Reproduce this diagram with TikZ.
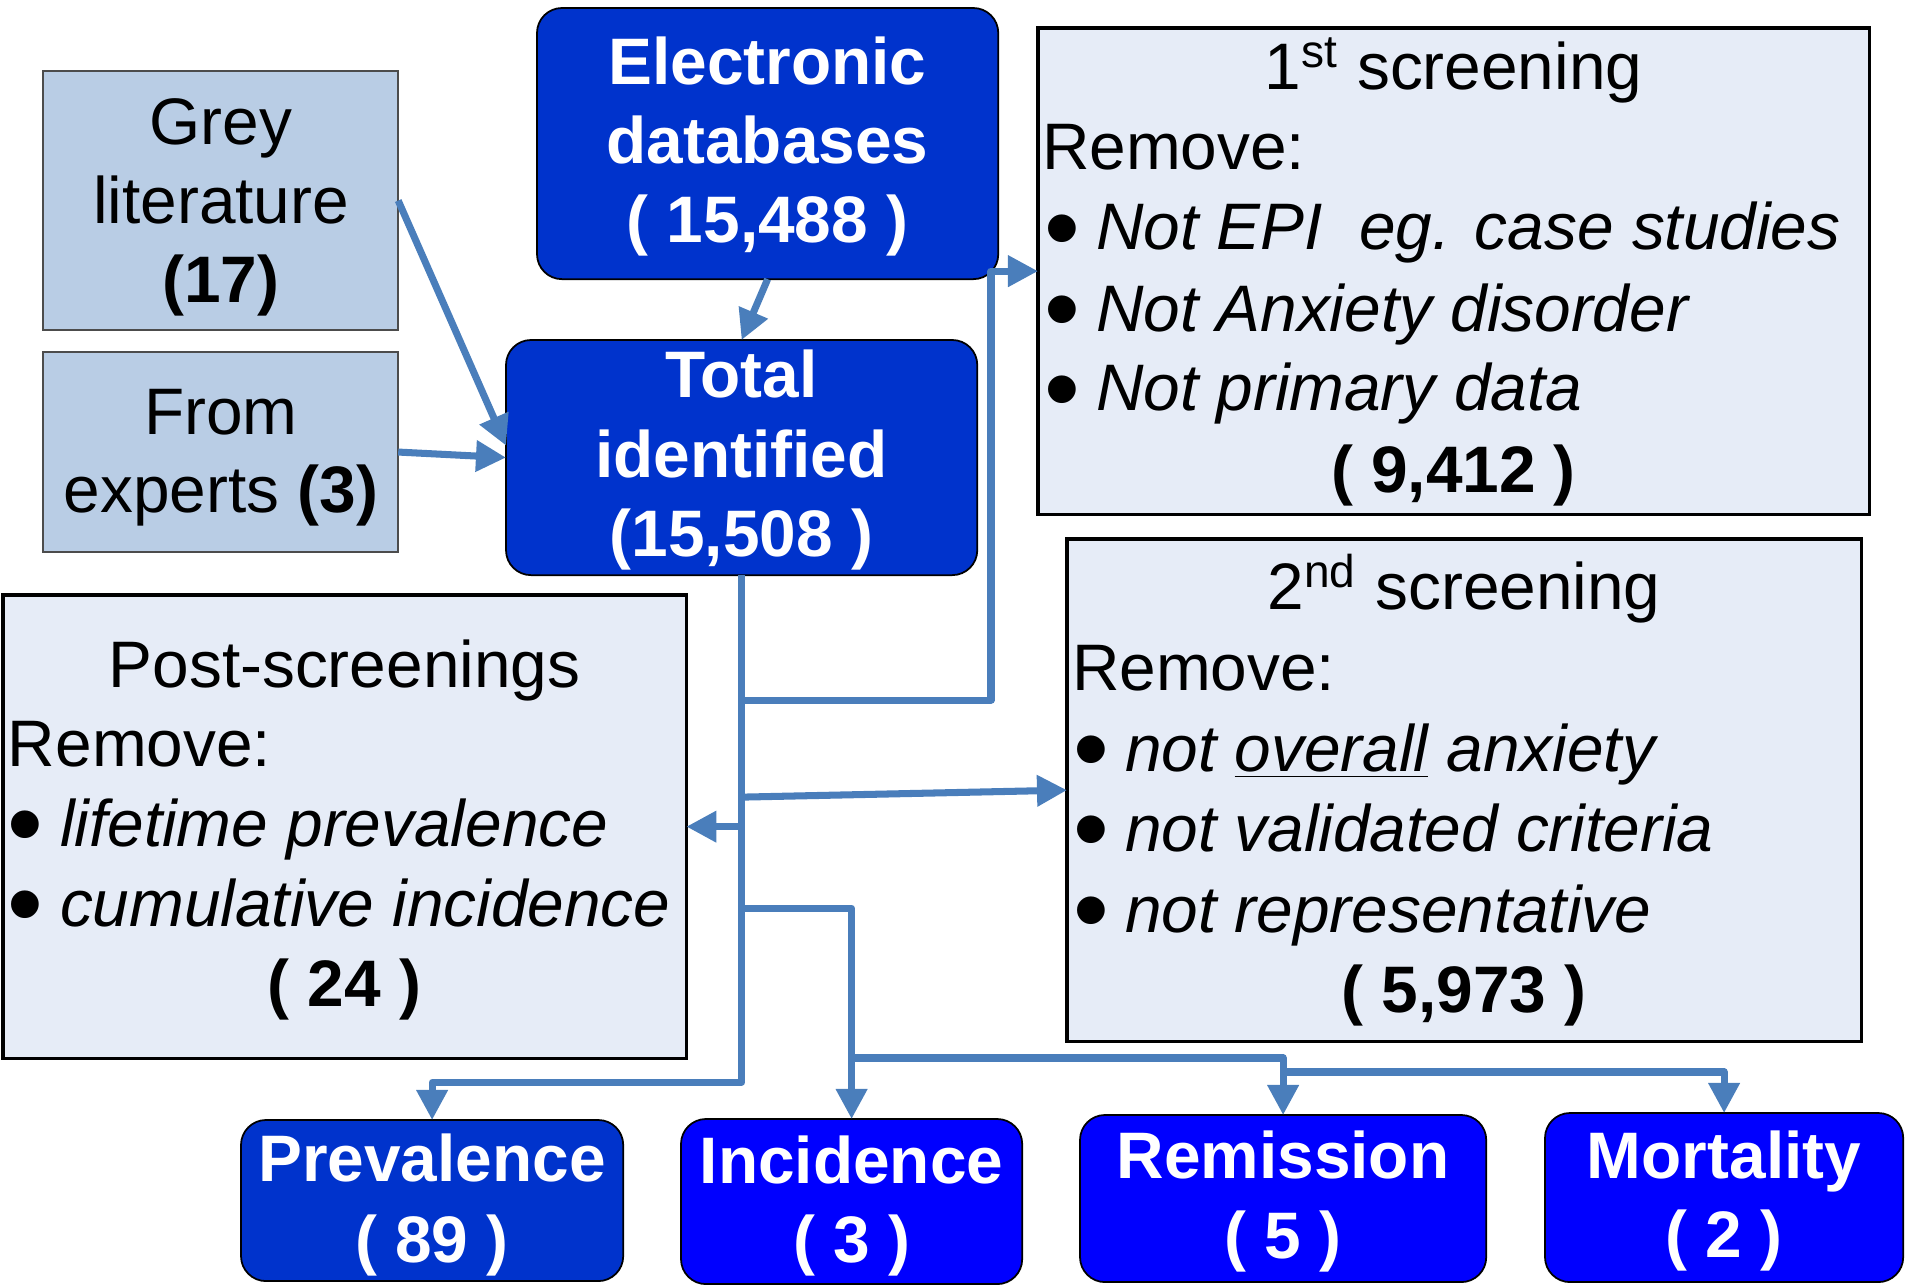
\documentclass[tikz,border=0pt]{standalone}
\usepackage{fontspec}
\setmainfont{Liberation Sans}
\usetikzlibrary{arrows.meta,calc}

\definecolor{linkblue}{HTML}{4A7EBB}
\definecolor{deepblue}{HTML}{0033CC}
\definecolor{pureblue}{HTML}{0000FF}
\definecolor{paleblue}{HTML}{B9CDE5}
\definecolor{mistblue}{HTML}{E6ECF7}

\newcommand\bodysize{\fontsize{18.7pt}{22.5pt}\selectfont}
% large list bullet, lowered so it sits at mid x-height, then the italic entry
\newcommand\listdot{\raisebox{-3.6pt}{\fontsize{29pt}{29pt}\selectfont\textbullet}}
\newcommand\dotline[1]{\makebox[0.52cm][l]{\listdot}\textit{#1}}

\begin{document}
\begin{tikzpicture}[x=0.01cm, y=-0.01cm,
  every node/.style={inner sep=0pt, outer sep=0pt},
  boxbase/.style={rectangle, anchor=north west},
  source/.style={boxbase, fill=paleblue, draw=black!70, line width=0.6pt},
  filter/.style={boxbase, fill=mistblue, draw=black, line width=0.9pt},
  hub/.style={boxbase, fill=deepblue, draw=black, line width=0.5pt, rounded corners=0.25cm},
  result/.style={hub, fill=pureblue},
  txt/.style={anchor=base, font=\bodysize},
  ltxt/.style={txt, anchor=base west},
  btxt/.style={txt, font=\bodysize\bfseries},
  wtxt/.style={txt, text=white, font=\bodysize\bfseries},
  flow/.style={draw=linkblue, line width=2pt, line join=round,
    -{Triangle[length=0.3cm,width=0.3cm]}},
]
\useasboundingbox (0,0) rectangle (1905,1285);

% ---- sources ----
\node[source, minimum width=3.55cm, minimum height=2.59cm] (grey) at (43,71) {};
\node[txt] (grey-1) at (221,145) {Grey};
\node[txt] (grey-2) at (221,224) {literature};
\node[btxt] (grey-3) at (221,303) {(17)};

\node[source, minimum width=3.55cm, minimum height=2.00cm] (experts) at (43,352) {};
\node[txt] (experts-1) at (221,434) {From};
\node[txt] (experts-2) at (221,512) {experts \textbf{(3)}};

\node[hub, minimum width=4.61cm, minimum height=2.71cm] (elec) at (537,8) {};
\node[wtxt] (elec-1) at (767.5,85) {Electronic};
\node[wtxt] (elec-2) at (767.5,164) {databases};
\node[wtxt] (elec-3) at (767.5,243) {( 15,488 )};

\node[hub, minimum width=4.71cm, minimum height=2.35cm] (tot) at (506,340) {};
\node[wtxt] (tot-1) at (741.5,398) {Total};
\node[wtxt] (tot-2) at (741.5,477) {identified};
\node[wtxt] (tot-3) at (741.5,557) {(15,508 )};

% ---- first screening ----
\node[filter, minimum width=8.31cm, minimum height=4.86cm] (s1) at (1038,28) {};
\node[txt] (s1-h) at (1453.5,90) {1\textsuperscript{st} screening};
\node[ltxt] (s1-r) at (1042,170) {Remove:};
\node[ltxt] (s1-t1) at (1044,250) {\dotline{Not EPI\ \ eg. case studies}};
\node[ltxt] (s1-t2) at (1044,331) {\dotline{Not Anxiety disorder}};
\node[ltxt] (s1-t3) at (1044,411) {\dotline{Not primary data}};
\node[btxt] (s1-n) at (1453.5,492) {( 9,412 )};

% ---- second screening ----
\node[filter, minimum width=7.94cm, minimum height=5.02cm] (s2) at (1067,539) {};
\node[txt] (s2-h) at (1464,610) {2\textsuperscript{nd} screening};
\node[ltxt] (s2-r) at (1072,690) {Remove:};
\node[ltxt] (s2-t1) at (1073,771) {\dotline{not \underline{overall} anxiety}};
\node[ltxt] (s2-t2) at (1073,851) {\dotline{not validated criteria}};
\node[ltxt] (s2-t3) at (1073,932) {\dotline{not representative}};
\node[btxt] (s2-n) at (1464,1012) {( 5,973 )};

% ---- post-screenings ----
\node[filter, minimum width=6.83cm, minimum height=4.63cm] (post) at (3,595) {};
\node[txt] (post-h) at (344.5,687) {Post-screenings};
\node[ltxt] (post-r) at (8,766) {Remove:};
\node[ltxt] (post-t1) at (8,846) {\dotline{lifetime prevalence}};
\node[ltxt] (post-t2) at (8,926) {\dotline{cumulative incidence}};
\node[btxt] (post-n) at (344.5,1006) {( 24 )};

% ---- outcomes ----
\node[hub, minimum width=3.82cm, minimum height=1.61cm] (prev) at (241,1120) {};
\node[wtxt] (prev-1) at (432,1181) {Prevalence};
\node[wtxt] (prev-2) at (432,1262) {( 89 )};

\node[result, minimum width=3.41cm, minimum height=1.65cm] (inc) at (681,1119) {};
\node[wtxt] (inc-1) at (851.5,1183) {Incidence};
\node[wtxt] (inc-2) at (851.5,1262) {( 3 )};

\node[result, minimum width=4.06cm, minimum height=1.67cm] (rem) at (1080,1115) {};
\node[wtxt] (rem-1) at (1283,1178) {Remission};
\node[wtxt] (rem-2) at (1283,1258) {( 5 )};

\node[result, minimum width=3.58cm, minimum height=1.69cm] (mort) at (1545,1113) {};
\node[wtxt] (mort-1) at (1724,1178) {Mortality};
\node[wtxt] (mort-2) at (1724,1257) {( 2 )};

% ---- connectors ----
\draw[flow] (grey.east) -- ($(tot.west)+(0,-12)$);
\draw[flow] (experts.east) -- (tot.west);
\draw[flow] (elec.south) -- (tot.north);
\draw[flow] (tot.south) -- ++(0,507) -| (prev.north);
\draw[flow] ($(tot.south)+(0,125)$) -| ($(s1.west)+(-47,0)$) -- (s1.west);
\draw[flow] ($(tot.south)+(0,222)$) -- (s2.west);
\draw[flow] (tot.south |- post.east) -- (post.east);
\draw[flow] ($(tot.south)+(0,333)$) -| (inc.north);
\draw[flow] ($(inc.north)+(0,-61)$) -| (rem.north);
\draw[flow] ($(rem.north)+(0,-43)$) -| (mort.north);
\end{tikzpicture}
\end{document}
